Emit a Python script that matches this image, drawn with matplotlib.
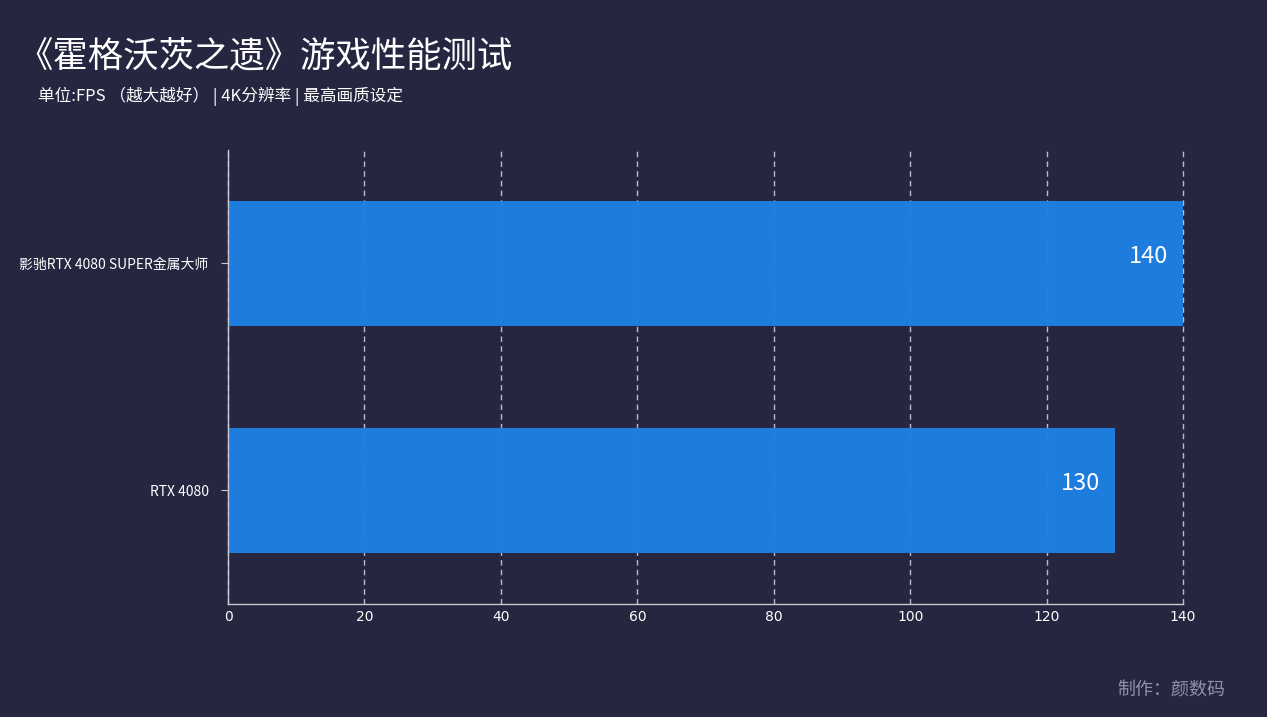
import matplotlib
matplotlib.use("Agg")
import matplotlib.pyplot as plt

plt.rcParams['font.family'] = ['Noto Sans CJK SC', 'DejaVu Sans']

categories = ["RTX 4080", "影驰RTX 4080 SUPER金属大师"]
values = [130, 140]
xticks = [0, 20, 40, 60, 80, 100, 120, 140]

bg = "#262641"
bar_color = "#1e80e3"

fig = plt.figure(figsize=(12.67, 7.17), dpi=100, facecolor=bg)
ax = fig.add_axes([0.18, 0.1576, 0.9337 - 0.18, 0.7908 - 0.1576])
ax.set_facecolor(bg)
ax.set_axisbelow(True)

ypos = list(range(len(categories)))
ax.barh(ypos, values, height=0.555, color=bar_color, alpha=0.96, zorder=2)
ax.set_xlim(0, 140)
ax.set_ylim(-0.5, 1.5)
ax.set_xticks(xticks)
ax.set_xticklabels([str(t) for t in xticks], fontfamily='DejaVu Sans')
ax.set_yticks(ypos)
ax.set_yticklabels(categories)
ax.grid(axis='x', color='#d8d8e0', linestyle=(0, (4, 3)), linewidth=1.0, alpha=0.85)
for gl in ax.get_xgridlines():
    gl.set_clip_on(False)
for y, v in zip(ypos, values):
    ax.text(v - 2.2, y + 0.03, str(v), ha='right', va='center', color='white', fontsize=17, zorder=4)

for s in ['top', 'right']:
    ax.spines[s].set_visible(False)
for s in ['left', 'bottom']:
    ax.spines[s].set_color('#c8c8d0')
    ax.spines[s].set_linewidth(1.0)
ax.tick_params(axis='x', colors='white', labelsize=10, length=0, pad=4)
ax.tick_params(axis='y', colors='white', labelsize=10, length=5, pad=9, color='#c8c8d0')

fig.text(0.014, 0.922, "《霍格沃茨之遗》游戏性能测试", color='white', fontsize=25.5, va='center', ha='left')
fig.text(0.03, 0.866, "单位:FPS （越大越好） | 4K分辨率 | 最高画质设定", color='white', fontsize=12, va='center', ha='left')
fig.text(0.967, 0.037, "制作：颜数码", color='#9090a8', fontsize=13, va='center', ha='right')

fig.savefig("out.png", dpi=100, facecolor=bg)
